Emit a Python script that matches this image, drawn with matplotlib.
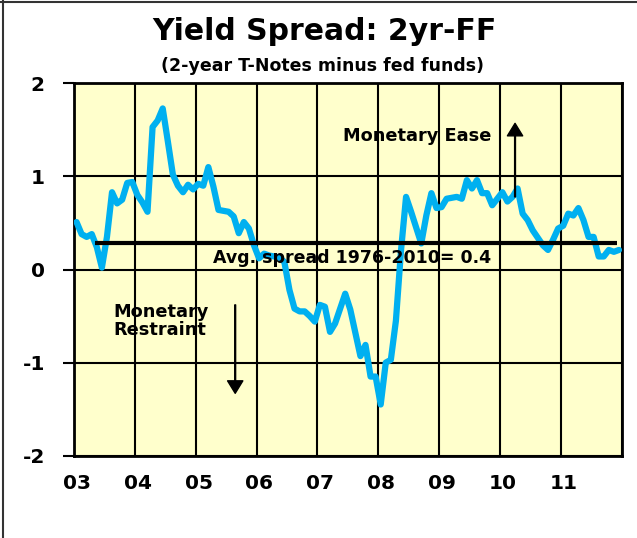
import matplotlib
matplotlib.use("Agg")
import matplotlib.pyplot as plt
import matplotlib.transforms as mtransforms
from matplotlib.lines import Line2D
import numpy as np

# monthly 2yr T-note minus fed funds spread, Jan 2003 .. Dec 2011
spread = [
    0.51, 0.38, 0.35, 0.38, 0.24, 0.02, 0.35, 0.83, 0.71, 0.75, 0.93, 0.94,   # 2003
    0.80, 0.72, 0.62, 1.53, 1.60, 1.73, 1.38, 1.02, 0.90, 0.83, 0.91, 0.86,   # 2004
    0.92, 0.90, 1.10, 0.89, 0.64, 0.63, 0.62, 0.57, 0.39, 0.51, 0.44, 0.26,   # 2005
    0.12, 0.17, 0.15, 0.14, 0.13, 0.08, -0.22, -0.42, -0.45, -0.45, -0.50, -0.56,  # 2006
    -0.38, -0.40, -0.67, -0.58, -0.42, -0.26, -0.43, -0.68, -0.93, -0.81, -1.15, -1.15,  # 2007
    -1.45, -1.00, -0.97, -0.55, 0.20, 0.78, 0.62, 0.45, 0.28, 0.58, 0.82, 0.66,  # 2008
    0.67, 0.76, 0.77, 0.78, 0.76, 0.96, 0.87, 0.96, 0.82, 0.82, 0.69, 0.76,   # 2009
    0.83, 0.73, 0.78, 0.87, 0.60, 0.53, 0.42, 0.34, 0.26, 0.21, 0.32, 0.44,   # 2010
    0.47, 0.60, 0.58, 0.66, 0.53, 0.35, 0.35, 0.14, 0.14, 0.21, 0.19, 0.21,   # 2011
]
start_year = 2003
years = list(range(2003, 2013))
year_labels = ["03", "04", "05", "06", "07", "08", "09", "10", "11", ""]
avg_level = 0.29
avg_label = "Avg. spread 1976-2010= 0.4"

BLUE = "#00B0F0"
PANEL = "#FFFFCC"

t = start_year + (np.arange(len(spread)) + 0.5) / 12.0

fig = plt.figure(figsize=(6.37, 5.38), dpi=100)
fig.patch.set_facecolor("white")
ax = fig.add_axes([74 / 637, 1 - 455.7 / 538, (621.5 - 74) / 637, (455.7 - 83.3) / 538])
ax.set_facecolor(PANEL)

ax.plot(t, spread, color=BLUE, lw=4.5, solid_capstyle="round",
        solid_joinstyle="round", zorder=3)
ax.plot([2003.35, 2011.93], [avg_level, avg_level], color="black", lw=3,
        solid_capstyle="butt", zorder=4)

ax.set_xlim(years[0], years[-1])
ax.set_ylim(-2, 2)
ax.set_xticks(years)
ax.set_xticklabels(year_labels)
ax.set_yticks([-2, -1, 0, 1, 2])
ax.set_yticklabels(["-2", "-1", "0", "1", "2"])
ax.grid(True, color="black", lw=1.5, zorder=1)
ax.set_axisbelow(True)
for sp in ax.spines.values():
    sp.set_linewidth(2)
    sp.set_color("black")

ax.tick_params(axis="x", length=0, pad=13, labelsize=14.5)
ax.tick_params(axis="y", direction="out", length=8, width=1.5, pad=13, labelsize=14.5)
for lbl in ax.get_xticklabels() + ax.get_yticklabels():
    lbl.set_fontweight("bold")
offset = mtransforms.ScaledTranslation(3 / 100, 0, fig.dpi_scale_trans)
for lbl in ax.get_xticklabels():
    lbl.set_transform(lbl.get_transform() + offset)

ax.text(2005.29, 0.12, avg_label, fontsize=12.5, fontweight="bold",
        ha="left", va="center", zorder=5)
ax.text(2007.42, 1.43, "Monetary Ease", fontsize=12.8, fontweight="bold",
        ha="left", va="center", zorder=5)
ax.text(2003.64, -0.555, "Monetary\nRestraint", fontsize=12.8, fontweight="bold",
        ha="left", va="center", linespacing=1.0, zorder=5)

arrow = dict(facecolor="black", edgecolor="black", width=0.6, headwidth=11,
             headlength=9, shrink=0)
ax.annotate("", xy=(2010.25, 1.57), xytext=(2010.25, 0.78), arrowprops=arrow, zorder=5)
ax.annotate("", xy=(2005.65, -1.33), xytext=(2005.65, -0.38), arrowprops=arrow, zorder=5)

fig.text(0.509, 1 - 32 / 538, "Yield Spread: 2yr-FF", fontsize=21.5, fontweight="bold",
         ha="center", va="center")
fig.text(0.506, 1 - 66 / 538, "(2-year T-Notes minus fed funds)", fontsize=12.5,
         fontweight="bold", ha="center", va="center")

# outer frame (top and left edges only)
fig.add_artist(Line2D([0, 1], [1 - 1.5 / 538] * 2, transform=fig.transFigure,
                      color="#333333", lw=1.5))
fig.add_artist(Line2D([3 / 637] * 2, [0, 1], transform=fig.transFigure,
                      color="#333333", lw=1.5))

fig.savefig("out.png", dpi=100)
